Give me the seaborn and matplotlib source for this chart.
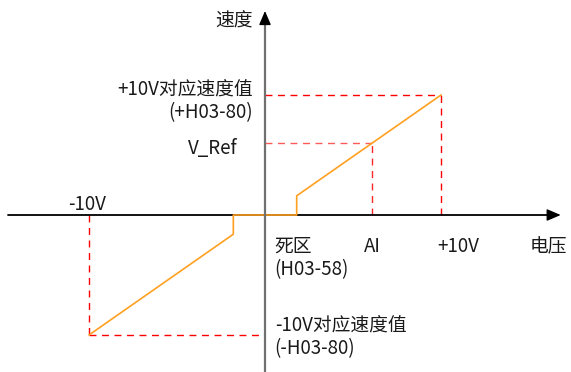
import matplotlib
matplotlib.use("Agg")
import matplotlib.pyplot as plt
import seaborn as sns
import pandas as pd

# analog input (V) vs. speed (% of the +10V speed value)
volt_points = [-10, -1.8, -1.8, 1.8, 1.8, 10]
speed_points = [-100, -16, 0, 0, 16, 100]
ai_volt = 6.1
v_ref = 60
max_volt = 10
max_speed = 100

sns.set_theme(style="white")
plt.rcParams['font.family'] = ['Noto Sans CJK SC', 'DejaVu Sans']

fig = plt.figure(figsize=(5.71, 3.72), dpi=100)
ax = fig.add_axes([0, 0, 1, 1])

# px -> data: 17.6 px per volt, 1.2 px per speed unit, origin at (265, 215)
ax.set_xlim(-265 / 17.6, 306 / 17.6)
ax.set_ylim(-157 / 1.2, 215 / 1.2)
ax.axis('off')

curve = pd.DataFrame({'volt': volt_points, 'speed': speed_points})

red = '#ff0000'
dash = (0, (5, 4))

# guide lines
ax.plot([-max_volt, -max_volt], [0, -max_speed], color=red, lw=1, linestyle=dash)
ax.plot([-max_volt, 0], [-max_speed, -max_speed], color=red, lw=1, linestyle=dash)
ax.plot([max_volt, max_volt], [0, max_speed], color=red, lw=1, linestyle=dash)
ax.plot([0, max_volt], [max_speed, max_speed], color=red, lw=1, linestyle=dash)
ax.plot([ai_volt, ai_volt], [0, v_ref], color=red, lw=1, linestyle=dash, alpha=0.85)
ax.plot([0, ai_volt], [v_ref, v_ref], color=red, lw=1, linestyle=dash, alpha=0.65)

# axes with arrows
x0, x1 = ax.get_xlim()
y0, y1 = ax.get_ylim()
x_tip = 16.8
y_tip = y1 - 11 / 1.2
ax.plot([x0 + 8 / 17.6, x_tip - 0.5], [0, 0], color='black', lw=1.3, zorder=3)
ax.annotate('', xy=(x_tip, 0), xytext=(x_tip - 0.7, 0),
            arrowprops=dict(arrowstyle='-|>,head_length=0.7,head_width=0.3', color='black', lw=1,
                            shrinkA=0, shrinkB=0), zorder=3)
ax.plot([0, 0], [y0, y_tip - 8], color='#707070', lw=1.6, zorder=5)
ax.annotate('', xy=(0, y_tip), xytext=(0, y_tip - 8),
            arrowprops=dict(arrowstyle='-|>,head_length=0.7,head_width=0.3', color='black', lw=1,
                            shrinkA=0, shrinkB=0), zorder=5)

sns.lineplot(data=curve, x='volt', y='speed', sort=False, estimator=None,
             color='#ffa020', lw=1.2, ax=ax, zorder=4)

fs = 13.5
tc = '#1a1a1a'
dy = -3.5
ax.text(-0.7, y1 - 17 / 1.2 + dy, '速度', ha='right', va='center', fontsize=fs, color=tc)
ax.text(-0.7, 108 + dy, '+10V对应速度值', ha='right', va='center', fontsize=fs, color=tc)
ax.text(-0.7, 89 + dy, '(+H03-80)', ha='right', va='center', fontsize=fs, color=tc)
ax.text(-2.95, 59 + dy, 'V_Ref', ha='center', va='center', fontsize=fs, color=tc)
ax.text(-max_volt - 0.1, 12.5 + dy, '-10V', ha='center', va='center', fontsize=fs, color=tc)
ax.text(0.55, -22.5 + dy, '死区', ha='left', va='center', fontsize=fs, color=tc)
ax.text(0.55, -42 + dy, '(H03-58)', ha='left', va='center', fontsize=fs, color=tc)
ax.text(ai_volt, -22.5 + dy, 'AI', ha='center', va='center', fontsize=fs, color=tc)
ax.text(10.97, -22.5 + dy, '+10V', ha='center', va='center', fontsize=fs, color=tc)
ax.text(16.08, -22.5 + dy, '电压', ha='center', va='center', fontsize=fs, color=tc)
ax.text(0.55, -89 + dy, '-10V对应速度值', ha='left', va='center', fontsize=fs, color=tc)
ax.text(0.55, -108 + dy, '(-H03-80)', ha='left', va='center', fontsize=fs, color=tc)

fig.savefig('out.png', dpi=100)
plt.close(fig)
